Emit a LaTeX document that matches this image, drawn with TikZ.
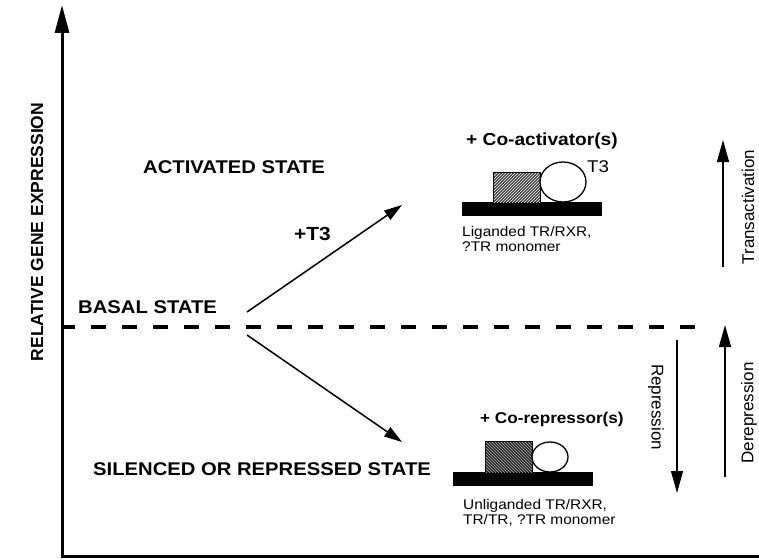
\documentclass[tikz,border=0pt]{standalone}
\usepackage{fontspec}
\usetikzlibrary{arrows.meta,patterns}
\newfontfamily\hv[FakeStretch=1.1]{Liberation Sans}
\newfontfamily\hvr{Liberation Sans}
\begin{document}
\begin{tikzpicture}[x=1pt,y=-1pt,
  axisline/.style={line width=3pt,line join=miter},
  levelline/.style={line width=3.5pt,dash pattern=on 15pt off 16pt,dash phase=2pt},
  shift arrow/.style={line width=1.5pt,-{Triangle[length=18pt,width=11pt]}},
  side arrow/.style={line width=1.3pt,-{Triangle[length=22pt,width=12pt]}},
  state/.style={anchor=base west,inner sep=0pt,font=\hv\bfseries\fontsize{18.4}{20}\selectfont},
  factor/.style={anchor=base west,inner sep=0pt,font=\hv\bfseries\fontsize{17.4}{20}\selectfont},
  note/.style={anchor=base west,inner sep=0pt,align=left,font=\hv\fontsize{14}{15}\selectfont},
  sidelabel/.style={inner sep=0pt,font=\hvr\fontsize{17}{20}\selectfont},
  dnabar/.style={fill=black},
  ligand/.style={draw=black,line width=1.3pt,fill=white}]
\useasboundingbox (0,0) rectangle (759,559);

% axes
\draw[axisline,-{Triangle[length=28pt,width=14pt]}] (759,556) -- (62,556) -- (62,5);
\node[rotate=90,inner sep=0pt,font=\hvr\bfseries\fontsize{17.5}{20}\selectfont] (ylab) at (37,232) {RELATIVE GENE EXPRESSION};

% basal level
\coordinate (lvlL) at (62,327);
\coordinate (lvlR) at (695,327);
\draw[levelline] (lvlL) -- (lvlR);

% state labels
\node[state] (act) at (143,173) {ACTIVATED STATE};
\node[state] (basal) at (78,313) {BASAL STATE};
\node[state] (sil) at (93,475) {SILENCED OR REPRESSED STATE};
\node[anchor=base west,inner sep=0pt,font=\hv\bfseries\fontsize{19}{20}\selectfont] (t3add) at (294,240) {+T3};

% branching arrows
\coordinate (forkU) at (247,312);
\coordinate (forkD) at (247,335);
\coordinate (tipU) at (402,205);
\coordinate (tipD) at (402,442);
\draw[shift arrow] (forkU) -- (tipU);
\draw[shift arrow] (forkD) -- (tipD);

% activated complex
\node[factor] (coact) at (466,145) {+ Co-activator(s)};
\fill[dnabar] (462,202) rectangle (602,216);
\fill[black!75] (493,172) rectangle (540,202);
\fill[pattern=north east lines,pattern color=white] (493,172) rectangle (540,202);
\draw[line width=1pt] (493,202) -- (493,172) -- (540,172) -- (540,202);
\draw[ligand] (563,182) ellipse [x radius=23,y radius=20];
\node[anchor=base west,inner sep=0pt,font=\hv\fontsize{17}{20}\selectfont] (t3) at (587,172) {T3};
\node[note] (lig) at (462,251) {Liganded TR/RXR,\\?TR monomer};

% repressed complex
\node[factor,font=\hv\bfseries\fontsize{15.6}{20}\selectfont] (corep) at (480,423) {+ Co-repressor(s)};
\fill[dnabar] (453,472) rectangle (593,486);
\fill[black!85] (485,441) rectangle (532,472);
\fill[pattern=north west lines,pattern color=white!70!black] (485,441) rectangle (532,472);
\draw[line width=1pt] (485,472) -- (485,441) -- (532,441) -- (532,472);
\draw[ligand] (550,457) ellipse [x radius=18,y radius=15];
\node[note] (unlig) at (463,524) {Unliganded TR/RXR,\\TR/TR, ?TR monomer};

% direction arrows at right
\coordinate (taB) at (723,267);
\coordinate (taT) at (723,140);
\draw[side arrow] (taB) -- (taT);
\node[sidelabel,rotate=90] (trans) at (748,207) {Transactivation};
\coordinate (reT) at (677,340);
\coordinate (reB) at (677,493);
\draw[side arrow] (reT) -- (reB);
\node[sidelabel,rotate=-90] (rep) at (656,407) {Repression};
\coordinate (deB) at (725,477);
\coordinate (deT) at (725,325);
\draw[side arrow] (deB) -- (deT);
\node[sidelabel,rotate=90] (derep) at (749,413) {Derepression};
\end{tikzpicture}
\end{document}
